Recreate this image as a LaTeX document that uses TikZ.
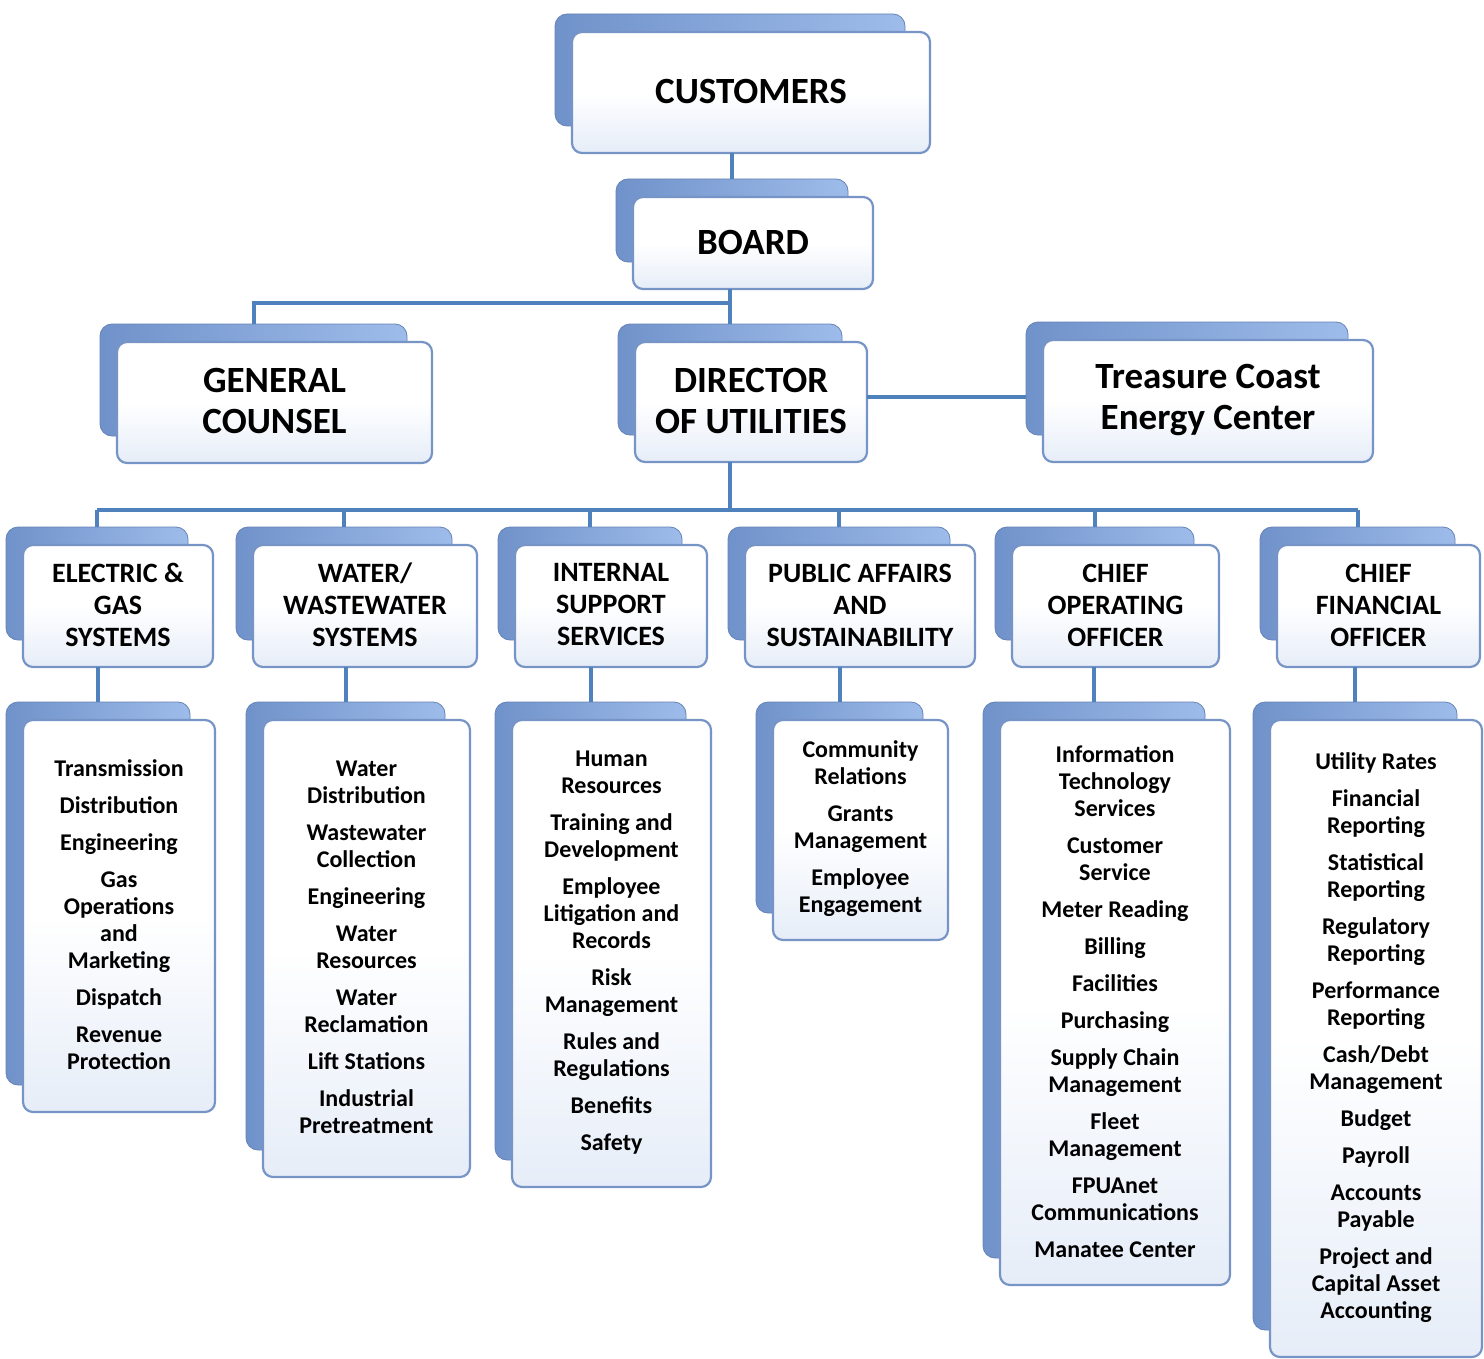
\documentclass[tikz,border=0pt]{standalone}
\usepackage{fontspec}
\setmainfont{Carlito}
\usetikzlibrary{fit}
\definecolor{connblue}{RGB}{79,129,189}
\definecolor{backL}{RGB}{112,146,202}
\definecolor{backR}{RGB}{158,188,234}
\definecolor{frontedge}{RGB}{118,148,198}
\definecolor{frontbot}{RGB}{230,237,248}
\newcommand\bigfont{\fontsize{18.5}{20.5}\selectfont\bfseries}
\newcommand\headfont{\fontsize{14}{16}\selectfont\bfseries}
\newcommand\listfont{\fontsize{12}{13.5}\selectfont\bfseries}
% name, x1, y1, x2, y2, font, text
\newcommand\obox[7]{%
  \node[backbox, fit={(#2-17,#3-18) (#4-25,#5-27)}] (#1-b) {};
  \node[frontbox, fit={(#2,#3) (#4,#5)}] (#1) {};
  \node[boxtext, font=#6] (#1-t) at (#1.center) {#7};
}
\begin{document}
\begin{tikzpicture}[x=0.5pt,y=-0.5pt,
  backbox/.style={rectangle, rounded corners=6pt, inner sep=0pt, outer sep=0pt,
    left color=backL, right color=backR, draw=backL!90!black, line width=0.4pt},
  frontbox/.style={rectangle, rounded corners=5pt, inner sep=0pt, outer sep=0pt,
    top color=white, bottom color=frontbot, middle color=white,
    draw=frontedge, line width=1.1pt},
  boxtext/.style={align=center, text=black, inner sep=0pt, yshift=0.5pt},
  conn/.style={draw=connblue, line width=2pt}]
\useasboundingbox (0,0) rectangle (1484,1359);

% top level
\obox{cust}{572}{32}{930}{153}{\bigfont}{CUSTOMERS}
\obox{board}{633}{197}{873}{289}{\bigfont}{BOARD}
\obox{gc}{117}{342}{432}{463}{\bigfont}{GENERAL\\COUNSEL}
\obox{dir}{635}{342}{867}{462}{\bigfont}{DIRECTOR\\OF UTILITIES}
\obox{tce}{1043}{340}{1373}{462}{\bigfont}{Treasure Coast\\Energy Center}

% headers
\obox{eg}{23}{545}{213}{667}{\headfont}{ELECTRIC \&\\GAS\\SYSTEMS}
\obox{ww}{253}{545}{477}{667}{\headfont}{WATER/\\WASTEWATER\\SYSTEMS}
\obox{is}{515}{545}{707}{667}{\headfont}{INTERNAL\\SUPPORT\\SERVICES}
\obox{pa}{745}{545}{975}{667}{\headfont}{PUBLIC AFFAIRS\\AND\\SUSTAINABILITY}
\obox{coo}{1012}{545}{1219}{667}{\headfont}{CHIEF\\OPERATING\\OFFICER}
\obox{cfo}{1277}{545}{1480}{667}{\headfont}{CHIEF\\FINANCIAL\\OFFICER}

% lists
\obox{egl}{23}{720}{215}{1112}{\listfont}{Transmission\\[5pt]Distribution\\[5pt]Engineering\\[5pt]Gas\\Operations\\and\\Marketing\\[5pt]Dispatch\\[5pt]Revenue\\Protection}
\obox{wwl}{263}{720}{470}{1177}{\listfont}{Water\\Distribution\\[5pt]Wastewater\\Collection\\[5pt]Engineering\\[5pt]Water\\Resources\\[5pt]Water\\Reclamation\\[5pt]Lift Stations\\[5pt]Industrial\\Pretreatment}
\obox{isl}{512}{720}{711}{1187}{\listfont}{Human\\Resources\\[5pt]Training and\\Development\\[5pt]Employee\\Litigation and\\Records\\[5pt]Risk\\Management\\[5pt]Rules and\\Regulations\\[5pt]Benefits\\[5pt]Safety}
\obox{pal}{773}{720}{948}{940}{\listfont}{Community\\Relations\\[5pt]Grants\\Management\\[5pt]Employee\\Engagement}
\obox{cool}{1000}{720}{1230}{1285}{\listfont}{Information\\Technology\\Services\\[5pt]Customer\\Service\\[5pt]Meter Reading\\[5pt]Billing\\[5pt]Facilities\\[5pt]Purchasing\\[5pt]Supply Chain\\Management\\[5pt]Fleet\\Management\\[5pt]FPUAnet\\Communications\\[5pt]Manatee Center}
\obox{cfol}{1270}{720}{1482}{1357}{\listfont}{Utility Rates\\[5pt]Financial\\Reporting\\[5pt]Statistical\\Reporting\\[5pt]Regulatory\\Reporting\\[5pt]Performance\\Reporting\\[5pt]Cash/Debt\\Management\\[5pt]Budget\\[5pt]Payroll\\[5pt]Accounts\\Payable\\[5pt]Project and\\Capital Asset\\Accounting}

% connectors
\draw[conn] (board-b.north |- cust.south) -- (board-b.north);
\draw[conn] (dir-b.north |- board.south) -- (dir-b.north);
\coordinate (j1) at (730,303);
\draw[conn] (j1) -| (gc-b.north);
\coordinate (tj) at (867,397);
\draw[conn] (tj) -- (tj -| tce-b.west);
\coordinate (bus) at (730,510);
\draw[conn] (bus |- dir.south) -- (bus);
\draw[conn] (bus -| eg-b.north) -- (bus -| cfo-b.north);
\foreach \h in {eg,ww,is,pa,coo,cfo}{
  \draw[conn] (bus -| \h-b.north) -- (\h-b.north);
}
\foreach \h in {eg,ww,is,pa,coo,cfo}{
  \draw[conn] (\h l-b.north |- \h.south) -- (\h l-b.north);
}
\end{tikzpicture}
\end{document}
